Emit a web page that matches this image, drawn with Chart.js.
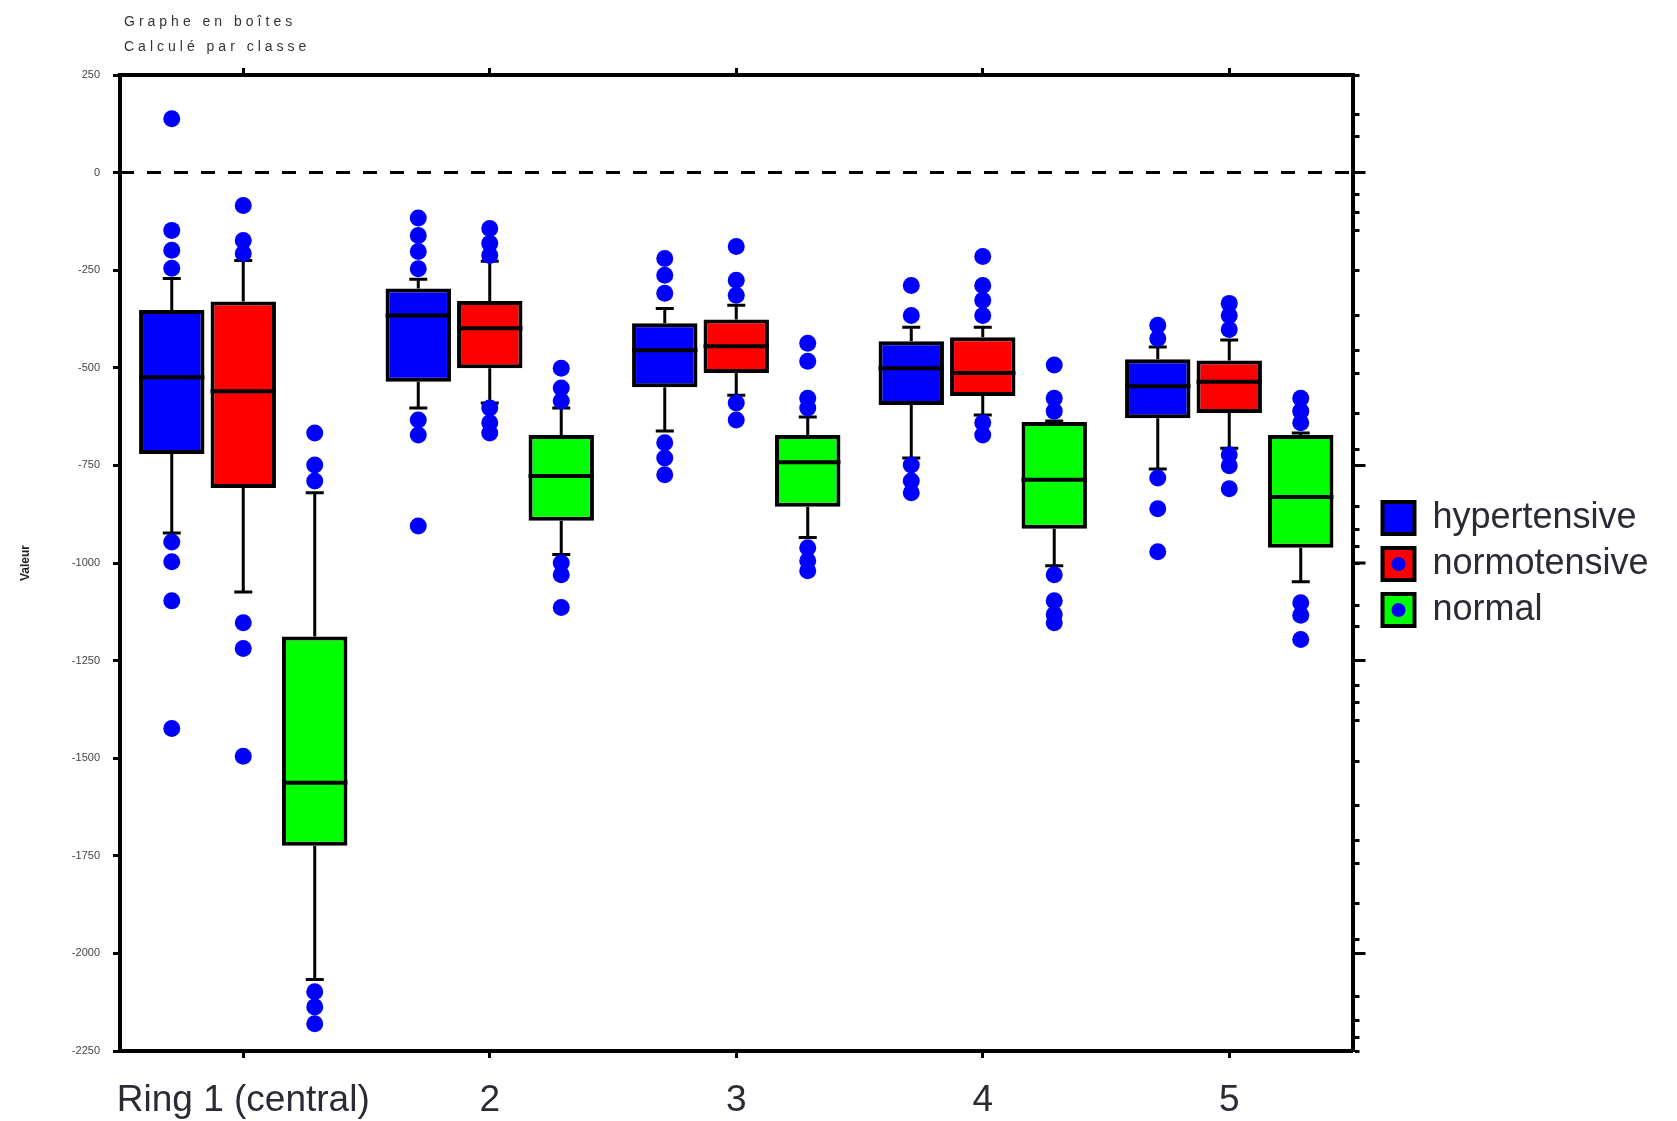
<!DOCTYPE html>
<html>
<head>
<meta charset="utf-8">
<script src="https://cdn.jsdelivr.net/npm/chart.js@4/dist/chart.umd.min.js"></script>
<style>
  html, body { margin: 0; padding: 0; background: #fff; }
  #wrap { width: 1677px; height: 1121px; }
</style>
</head>
<body>
<div id="wrap"><canvas id="box-chart" width="1677" height="1121"></canvas></div>
<script>
const CATEGORIES = ['Ring 1 (central)', '2', '3', '4', '5'];
const SERIES_NAMES = ['hypertensive', 'normotensive', 'normal'];
const SERIES_COLORS = ['#0000ff', '#ff0000', '#00ff00'];

// hypertensive
const HYPER_Q1 = [-721, -536, -550, -595, -629];
const HYPER_Q3 = [-352, -297, -386, -432, -478];
const HYPER_MED = [-524, -366, -455, -501, -547];
const HYPER_LO = [-923, -603, -662, -731, -759];
const HYPER_HI = [-271, -273, -348, -396, -447];
const HYPER_OUT = [
  [138, -148, -199, -245, -946, -997, -1097, -1424],
  [-116, -161, -202, -246, -634, -672, -905],
  [-220, -263, -309, -692, -731, -774],
  [-289, -366, -749, -790, -820],
  [-391, -425, -782, -861, -971]
];

// normotensive
const NORMO_Q1 = [-808, -501, -513, -572, -616];
const NORMO_Q3 = [-330, -329, -376, -422, -481];
const NORMO_MED = [-560, -399, -445, -513, -536];
const NORMO_LO = [-1074, -590, -570, -621, -706];
const NORMO_HI = [-225, -227, -340, -396, -429];
const NORMO_OUT = [
  [-84, -174, -207, -1153, -1219, -1495],
  [-143, -181, -212, -603, -641, -667],
  [-189, -276, -314, -590, -634],
  [-215, -289, -327, -366, -641, -672],
  [-335, -366, -402, -723, -751, -810]
];

// normal
const NORMAL_Q1 = [-1724, -892, -856, -912, -961];
const NORMAL_Q3 = [-1188, -672, -672, -639, -672];
const NORMAL_MED = [-1563, -777, -742, -787, -831];
const NORMAL_LO = [-2067, -978, -935, -1007, -1048];
const NORMAL_HI = [-820, -603, -626, -636, -667];
const NORMAL_OUT = [
  [-667, -749, -790, -2098, -2137, -2180],
  [-501, -552, -585, -1000, -1030, -1114],
  [-437, -483, -578, -603, -961, -994, -1020],
  [-493, -578, -611, -1030, -1097, -1132, -1153],
  [-578, -611, -641, -1102, -1134, -1196]
];

const Y_MIN = -2250;
const Y_MAX = 250;
const Y_STEP = 250;
const REF_VALUE = 0;
// the right axis has its own uneven ticks
const RIGHT_TICKS = [250, 148, 92, 0, -56, -102, -148, -250, -366, -455, -514, -616, -708, -750, -856, -915, -958, -1000,
  -1108, -1163, -1250, -1314, -1357, -1403, -1508, -1622, -1711, -1770, -1873, -1964, -2000, -2111, -2171, -2216, -2250];
const RIGHT_MAJOR = [0, -750, -1000, -1250, -2000];

const TITLE_LINES = ['Graphe en boîtes', 'Calculé par classe'];
const Y_TITLE = 'Valeur';

const stats = [
  {q1: HYPER_Q1, q3: HYPER_Q3, med: HYPER_MED, lo: HYPER_LO, hi: HYPER_HI, out: HYPER_OUT},
  {q1: NORMO_Q1, q3: NORMO_Q3, med: NORMO_MED, lo: NORMO_LO, hi: NORMO_HI, out: NORMO_OUT},
  {q1: NORMAL_Q1, q3: NORMAL_Q3, med: NORMAL_MED, lo: NORMAL_LO, hi: NORMAL_HI, out: NORMAL_OUT}
];

const FONT = "'Liberation Sans', Arial, sans-serif";
const TEXT_COLOR = '#2b2b36';

// median, whiskers and outliers drawn on top of the floating bars
const boxExtras = {
  id: 'boxExtras',
  beforeDatasetsDraw(chart) {
    const {ctx, chartArea, scales} = chart;
    const y = scales.y.getPixelForValue(REF_VALUE);
    ctx.save();
    ctx.strokeStyle = '#000';
    ctx.lineWidth = 3;
    ctx.setLineDash([14, 13]);
    ctx.beginPath();
    ctx.moveTo(chartArea.left, y);
    ctx.lineTo(chartArea.right, y);
    ctx.stroke();
    ctx.restore();
  },
  afterDatasetsDraw(chart) {
    const {ctx, scales} = chart;
    const ys = scales.y;
    ctx.save();
    stats.forEach((s, d) => {
      const meta = chart.getDatasetMeta(d);
      meta.data.forEach((bar, i) => {
        const x = bar.x;
        const w = bar.width;
        ctx.strokeStyle = '#000';
        ctx.lineWidth = 4;
        ctx.beginPath();
        ctx.moveTo(x - w / 2, ys.getPixelForValue(s.med[i]));
        ctx.lineTo(x + w / 2, ys.getPixelForValue(s.med[i]));
        ctx.stroke();

        ctx.lineWidth = 3;
        ctx.beginPath();
        ctx.moveTo(x, ys.getPixelForValue(s.q3[i]));
        ctx.lineTo(x, ys.getPixelForValue(s.hi[i]));
        ctx.moveTo(x, ys.getPixelForValue(s.q1[i]));
        ctx.lineTo(x, ys.getPixelForValue(s.lo[i]));
        ctx.moveTo(x - 9, ys.getPixelForValue(s.hi[i]));
        ctx.lineTo(x + 9, ys.getPixelForValue(s.hi[i]));
        ctx.moveTo(x - 9, ys.getPixelForValue(s.lo[i]));
        ctx.lineTo(x + 9, ys.getPixelForValue(s.lo[i]));
        ctx.stroke();

        ctx.fillStyle = '#0000ff';
        s.out[i].forEach(v => {
          ctx.beginPath();
          ctx.arc(x, ys.getPixelForValue(v), 8.5, 0, Math.PI * 2);
          ctx.fill();
        });
      });
    });
    ctx.restore();
  },
  afterDraw(chart) {
    const {ctx, chartArea, scales} = chart;
    ctx.save();
    // longer marks on the right axis
    const ry = scales.y2;
    ctx.strokeStyle = '#000';
    ctx.lineWidth = 3;
    ctx.beginPath();
    RIGHT_MAJOR.forEach(v => {
      const py = ry.getPixelForValue(v);
      ctx.moveTo(chartArea.right, py);
      ctx.lineTo(chartArea.right + 13, py);
    });
    ctx.stroke();

    // title in the top left corner
    ctx.font = '14px ' + FONT;
    ctx.fillStyle = '#333';
    ctx.letterSpacing = '4px';
    ctx.textBaseline = 'alphabetic';
    ctx.fillText(TITLE_LINES[0], chartArea.left + 4, 26);
    ctx.fillText(TITLE_LINES[1], chartArea.left + 4, 51);
    ctx.letterSpacing = '0px';

    // blue marker inside the red and green legend boxes
    const hb = chart.legend.legendHitBoxes;
    ctx.fillStyle = '#0000ff';
    [1, 2].forEach(i => {
      const b = hb[i];
      ctx.beginPath();
      ctx.arc(b.left + 16, b.top + b.height / 2, 7, 0, Math.PI * 2);
      ctx.fill();
    });
    ctx.restore();
  }
};

const datasets = stats.map((s, d) => ({
  label: SERIES_NAMES[d],
  data: s.q1.map((q, i) => [q, s.q3[i]]),
  backgroundColor: SERIES_COLORS[d],
  borderColor: '#000',
  borderWidth: 4,
  borderSkipped: false,
  categoryPercentage: 0.87,
  barPercentage: 0.915
}));

const axisGrid = {drawOnChartArea: false, offset: false, tickLength: 7, tickWidth: 3, tickColor: '#000'};
const axisBorder = {color: '#000', width: 4};

new Chart(document.getElementById('box-chart'), {
  type: 'bar',
  data: {labels: CATEGORIES, datasets: datasets},
  options: {
    responsive: false,
    animation: false,
    devicePixelRatio: 1,
    layout: {padding: {left: 0, right: 30, top: 7, bottom: 0}},
    plugins: {
      tooltip: {enabled: false},
      legend: {
        position: 'right',
        labels: {
          boxWidth: 32,
          boxHeight: 32,
          padding: 10,
          color: TEXT_COLOR,
          font: {family: FONT, size: 36},
          generateLabels: chart => chart.data.datasets.map((ds, i) => ({
            text: ds.label,
            fillStyle: ds.backgroundColor,
            strokeStyle: '#000',
            lineWidth: 4,
            fontColor: TEXT_COLOR,
            datasetIndex: i,
            hidden: false
          }))
        }
      }
    },
    scales: {
      x: {
        position: 'bottom',
        grid: axisGrid,
        border: axisBorder,
        ticks: {color: TEXT_COLOR, font: {family: FONT, size: 37}, padding: 21, maxRotation: 0, autoSkip: false},
        afterFit: s => { s.height = 70; }
      },
      x2: {
        type: 'category',
        position: 'top',
        labels: CATEGORIES,
        offset: true,
        grid: axisGrid,
        border: axisBorder,
        ticks: {display: false},
        afterFit: s => { s.height = 68; }
      },
      y: {
        min: Y_MIN,
        max: Y_MAX,
        grid: axisGrid,
        border: axisBorder,
        ticks: {stepSize: Y_STEP, color: '#444', font: {family: FONT, size: 11}, padding: 13, callback: v => String(v)},
        title: {display: true, text: Y_TITLE, color: '#222', font: {family: FONT, size: 12, weight: 'bold'}, padding: {top: 18}},
        afterFit: s => { s.width = 120; }
      },
      y2: {
        type: 'linear',
        position: 'right',
        min: Y_MIN,
        max: Y_MAX,
        grid: axisGrid,
        border: axisBorder,
        ticks: {display: false},
        afterBuildTicks: s => { s.ticks = RIGHT_TICKS.map(v => ({value: v})); },
        afterFit: s => { s.width = 20; }
      }
    }
  },
  plugins: [boxExtras]
});
</script>
</body>
</html>
